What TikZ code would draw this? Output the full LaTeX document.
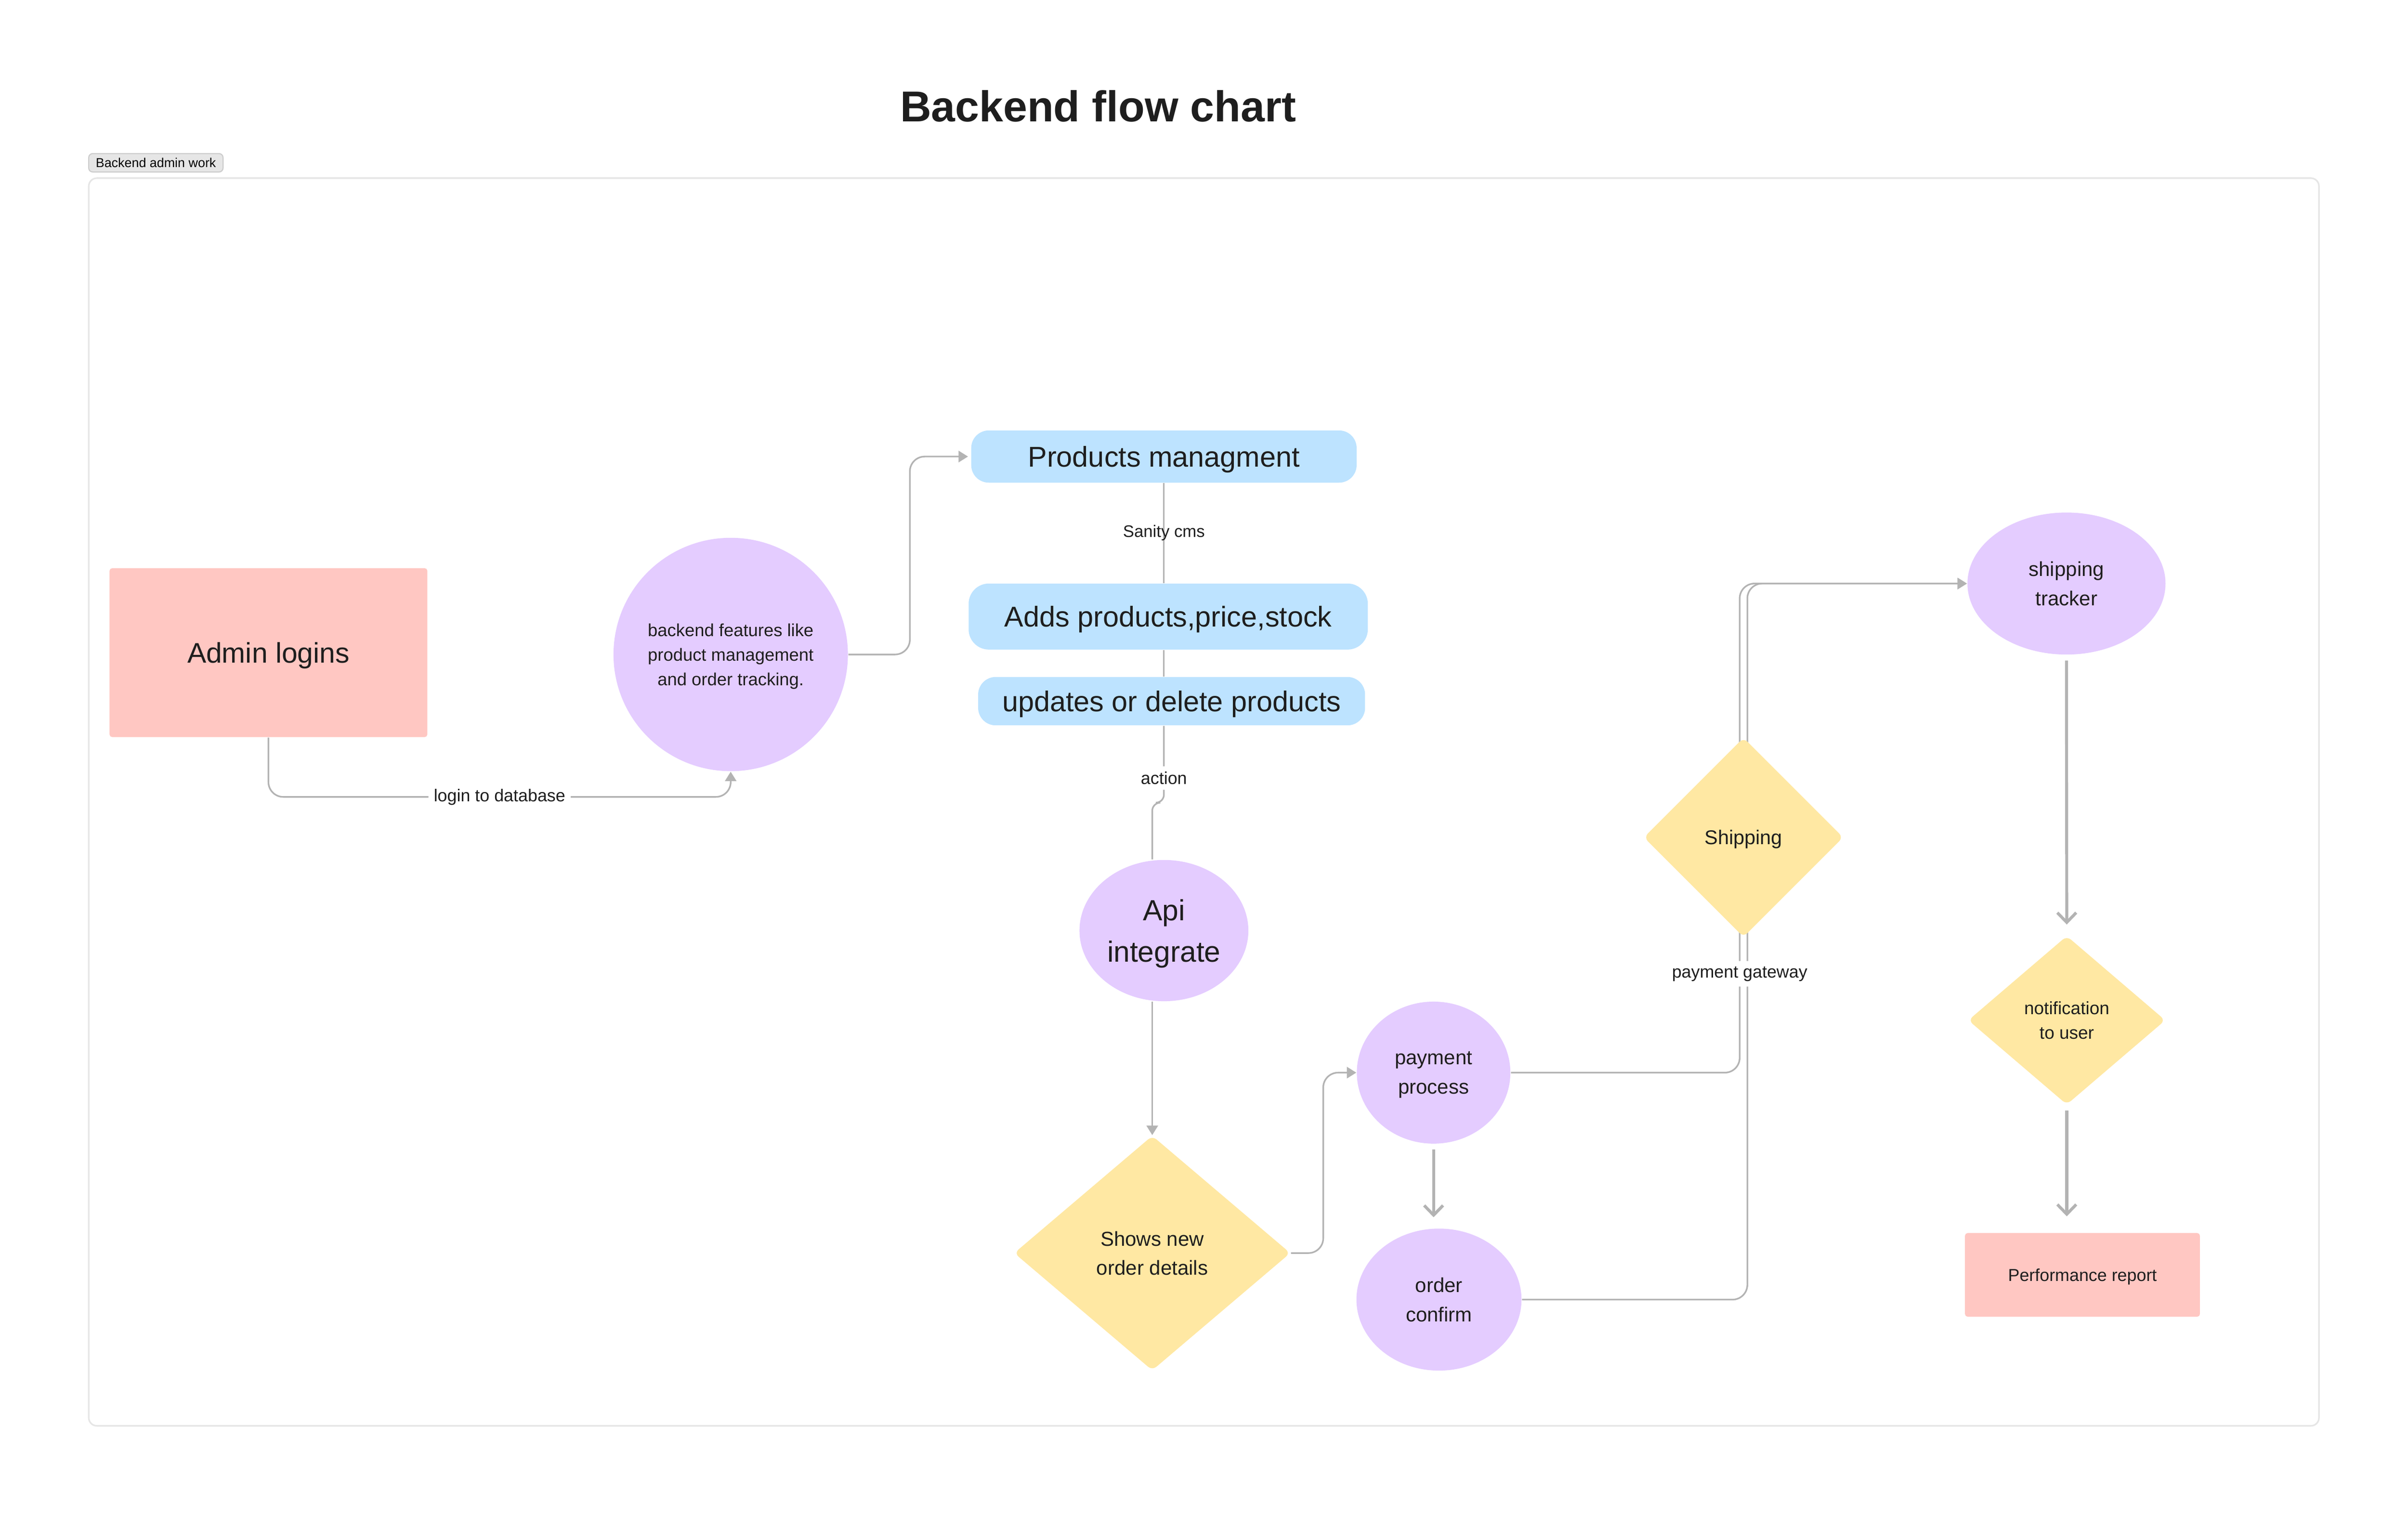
\documentclass[tikz,border=0pt]{standalone}
\usepackage{fontspec}
\setmainfont{Liberation Sans}
\usetikzlibrary{shapes.geometric,arrows.meta}

\definecolor{pinkbox}{HTML}{FFC7C2}
\definecolor{lilac}{HTML}{E4CCFF}
\definecolor{skyblue}{HTML}{BDE3FF}
\definecolor{sand}{HTML}{FFE8A3}
\definecolor{wire}{HTML}{B3B3B3}
\definecolor{ink}{HTML}{1E1E1E}
\definecolor{framegray}{HTML}{E6E6E6}
\definecolor{tagline}{HTML}{CCCCCC}

\newcommand\fsz[2]{\fontsize{#1}{#2}\selectfont}

\tikzset{
  base/.style={text=ink, inner sep=0pt, align=center, text depth=0pt},
  startbox/.style={base, rectangle, fill=pinkbox, rounded corners=1pt},
  bubble/.style={base, ellipse, fill=lilac},
  pill/.style={base, rectangle, fill=skyblue, rounded corners=6.5pt, font=\fsz{10.6}{13}},
  decision/.style={base, diamond, fill=sand, rounded corners=2pt},
  wirel/.style={draw=wire, line width=0.6pt, rounded corners=5.5pt},
  flow/.style={wirel, -{Triangle[length=3.5pt,width=4.2pt]}},
  flowv/.style={draw=wire, line width=1.1pt, -{Straight Barb[length=3.6pt,width=7pt]}},
  lbl/.style={text=ink, font=\fsz{6.4}{8}, fill=white, inner sep=2pt}
}

\begin{document}
\begin{tikzpicture}[x=0.02cm,y=-0.02cm]
\useasboundingbox (0,0) rectangle (1568,986.5);

\node[font=\bfseries\fsz{16}{19}, text=ink] (title) at (715,69) {Backend flow chart};
\node[fill=framegray, draw=tagline, line width=0.4pt, rounded corners=1.5pt, text=black, font=\fsz{4.8}{6}, inner sep=0pt, minimum width=1.75cm, minimum height=0.24cm] (tag) at (101.5,106) {Backend admin work};
\draw[framegray, line width=0.6pt, rounded corners=3pt] (57.8,116) rectangle (1510,928.5);

\node[startbox, minimum width=4.14cm, minimum height=2.2cm, font=\fsz{10.5}{13}] (admin) at (174.8,425) {Admin logins};
\node[bubble, minimum width=3.04cm, minimum height=3.04cm, font=\fsz{6.5}{9.1}] (feat) at (475.8,426.2) {backend features like\\product management\\and order tracking.};
\node[pill, minimum width=5.02cm, minimum height=0.68cm] (prod) at (757.9,297.3) {Products managment};
\node[pill, minimum width=5.2cm, minimum height=0.86cm, rounded corners=7.5pt] (adds) at (760.7,401.5) {Adds products,price,stock};
\node[pill, minimum width=5.04cm, minimum height=0.63cm] (upd) at (762.9,456.6) {updates or delete products};
\node[bubble, minimum width=2.2cm, minimum height=1.84cm, font=\fsz{10.8}{15.3}] (api) at (757.9,606) {Api\\integrate};
\node[decision, minimum width=3.6cm, minimum height=3.06cm, font=\fsz{7.5}{10.8}] (shows) at (750.3,816) {Shows new\\order details};
\node[bubble, minimum width=2cm, minimum height=1.85cm, font=\fsz{7.5}{10.8}] (pay) at (933.5,698.5) {payment\\process};
\node[bubble, minimum width=2.15cm, minimum height=1.85cm, font=\fsz{7.5}{10.8}] (conf) at (937,846.3) {order\\confirm};
\coordinate (gate) at (1135.3,545.3);
\node[bubble, minimum width=2.58cm, minimum height=1.85cm, font=\fsz{7.5}{10.8}] (track) at (1345.6,380) {shipping\\tracker};
\node[decision, minimum width=2.57cm, minimum height=2.2cm, font=\fsz{6.6}{9.1}] (notif) at (1345.8,664.4) {notification\\to user};
\node[startbox, minimum width=3.06cm, minimum height=1.09cm, font=\fsz{6.4}{8}] (perf) at (1356,830.2) {Performance report};

\draw[flow] (admin.south) -- ++(0,38.6) -| node[lbl,pos=0.25]{login to database} (feat.south);
\draw[flow, shorten >=1pt] (feat.east) -- ++(40,0) |- (prod.west);
\draw[wirel] (prod.south) -- (prod.south |- adds.north) node[midway, text=ink, font=\fsz{6.2}{8}]{Sanity cms};
\draw[wirel] (prod.south |- adds.south) -- (prod.south |- upd.north);
\draw[wirel, rounded corners=3pt] (prod.south |- upd.south) -- ++(0,50) node[lbl,pos=0.68]{action} -| (shows.north |- api.north);
\draw[flow] (shows.north |- api.south) -- (shows.north);
\draw[flow] (shows.east) -- ++(21,0) |- (pay.west);
\draw[flowv, shorten <=2pt, shorten >=4pt] (pay.south) -- (pay.south |- conf.north);
\draw[flow] (conf.east) -| ([xshift=0.05cm]gate) |- (track.west);
\draw[flow] (pay.east) -| node[lbl,pos=0.71]{payment gateway} ([xshift=-0.05cm]gate) |- (track.west);
\node[decision, minimum width=2.6cm, minimum height=2.6cm, font=\fsz{7.4}{9}] (ship) at (gate) {Shipping};
\draw[flowv, shorten <=2pt, shorten >=4pt] (track.south) -- (notif.north);
\draw[flowv, shorten <=2pt, shorten >=6pt] (notif.south) -- (notif.south |- perf.north);
\end{tikzpicture}
\end{document}
